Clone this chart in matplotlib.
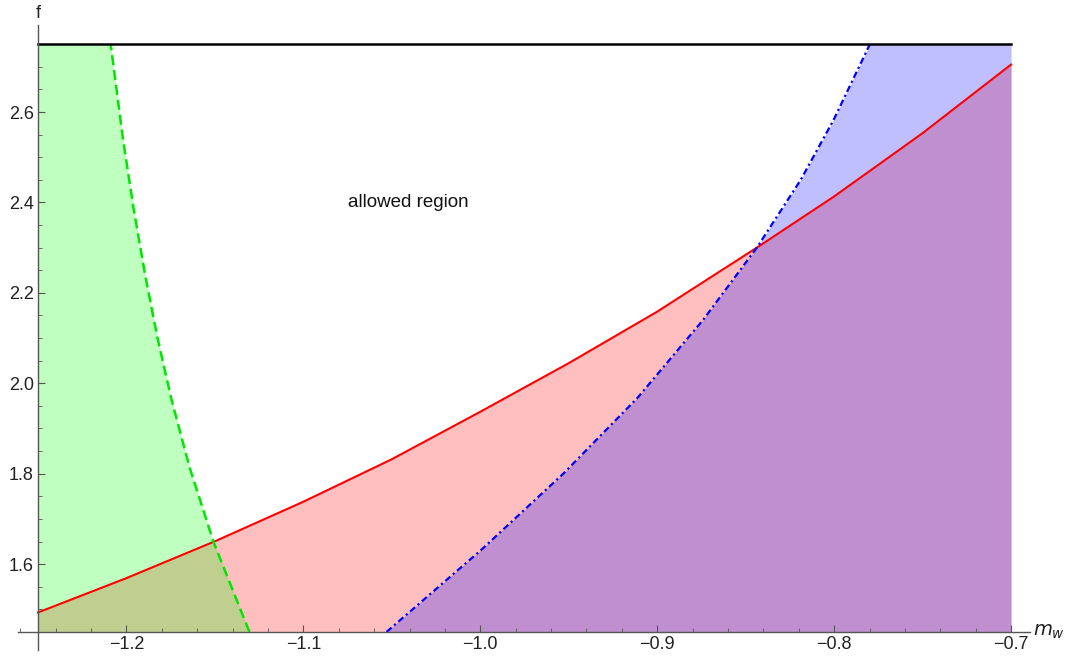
import numpy as np
import matplotlib.pyplot as plt
from matplotlib.ticker import MultipleLocator, FuncFormatter

# values (readings evened out a little)
red_m = [-1.25, -1.20, -1.15, -1.10, -1.05, -1.0, -0.95, -0.90, -0.8437, -0.80, -0.75, -0.70]
red_f = [1.493, 1.569, 1.6505, 1.738, 1.832, 1.937, 2.0445, 2.1585, 2.300, 2.4133, 2.5533, 2.705]

green_f = [1.45, 1.649, 1.815, 1.963, 2.103, 2.243, 2.390, 2.538, 2.75]
green_m = [-1.1305, -1.1508, -1.1644, -1.1745, -1.1826, -1.1896, -1.1961, -1.2019, -1.2089]

blue_f = [1.45, 1.631, 1.800, 1.968, 2.14, 2.30, 2.45, 2.582, 2.75]
blue_m = [-1.053, -0.9996, -0.9531, -0.9111, -0.8741, -0.8437, -0.8189, -0.8004, -0.7798]

m_lo, m_hi = -1.25, -0.70
f_lo, f_hi = 1.45, 2.75

fig = plt.figure(figsize=(10.73, 6.59), dpi=100)
ax = fig.add_axes([18/1073, 9/659, 1012/1073, 625/659])

ax.fill_between(red_m, f_lo, red_f, color='red', alpha=0.25, lw=0)
ax.plot(red_m, red_f, color='red', lw=1.5)
ax.fill_betweenx(green_f, m_lo, green_m, color=(0, 1, 0), alpha=0.25, lw=0)
ax.fill_betweenx(blue_f, blue_m, m_hi, color='blue', alpha=0.25, lw=0)
ax.plot(green_m, green_f, color=(0, 0.9, 0), lw=1.8, ls=(0, (4, 2)))
ax.plot(blue_m, blue_f, color='blue', lw=1.6, ls=(0, (3, 1.5, 1, 1.5)))
ax.plot([m_lo, m_hi], [f_hi, f_hi], color='black', lw=1.8)

ax.text(-1.0407, 2.40, 'allowed region', fontsize=13.5, ha='center', va='center',
        family='Liberation Sans', color='#111111')

ax.set_xlim(-1.2613, -0.6893)
ax.set_ylim(1.410, 2.7925)

for s in ['top', 'right']:
    ax.spines[s].set_visible(False)
ax.spines['left'].set_position(('data', m_lo))
ax.spines['bottom'].set_position(('data', f_lo))
for s in ['left', 'bottom']:
    ax.spines[s].set_color('#555555')
    ax.spines[s].set_linewidth(1.0)

ax.xaxis.set_major_locator(MultipleLocator(0.1))
ax.xaxis.set_minor_locator(MultipleLocator(0.02))
ax.yaxis.set_major_locator(MultipleLocator(0.2))
ax.yaxis.set_minor_locator(MultipleLocator(0.05))
fmt = FuncFormatter(lambda v, p: ('%.1f' % v).replace('-', '\u2212'))
ax.xaxis.set_major_formatter(fmt)
ax.yaxis.set_major_formatter(fmt)
ax.set_xticks([-1.2, -1.1, -1.0, -0.9, -0.8, -0.7])
ax.set_yticks([1.6, 1.8, 2.0, 2.2, 2.4, 2.6])
ax.tick_params(which='major', direction='in', length=5, width=0.8, color='#555555',
               labelsize=13, labelcolor='#222222', pad=3)
ax.tick_params(which='minor', direction='in', length=3, width=0.6, color='#555555')
for lab in ax.get_xticklabels() + ax.get_yticklabels():
    lab.set_family('Liberation Sans')

ax.text(-1.25, 2.80, 'f', fontsize=13, ha='center', va='bottom', family='Liberation Sans',
        color='#222222', clip_on=False)
ax.text(-0.6875, 1.45, '$m_w$', fontsize=14, ha='left', va='center', color='#222222', clip_on=False)

fig.savefig('out.png', dpi=100)
